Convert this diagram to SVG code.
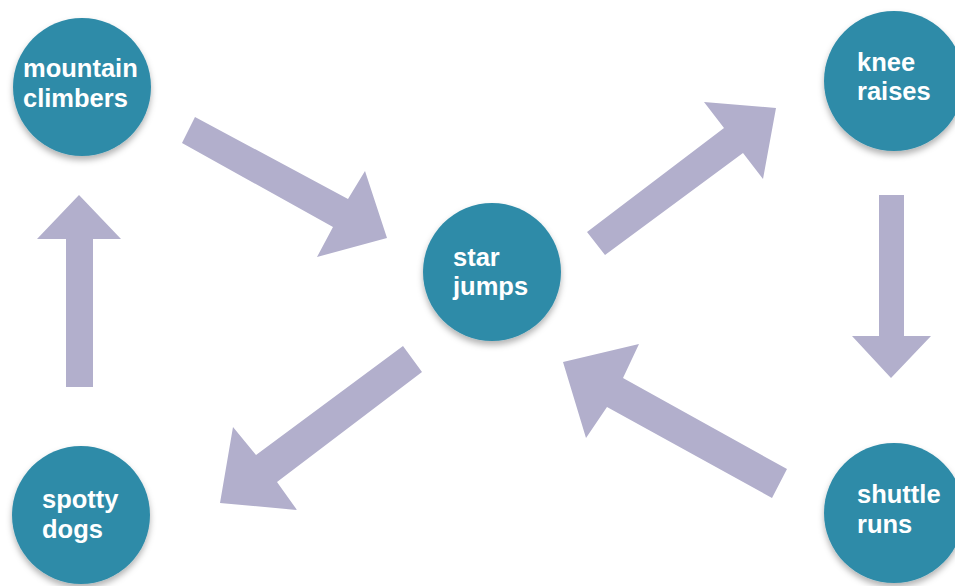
<svg xmlns="http://www.w3.org/2000/svg" width="955" height="586" viewBox="0 0 955 586">
<defs>
<filter id="sh" x="-20%" y="-20%" width="140%" height="150%">
<feDropShadow dx="0" dy="4" stdDeviation="3" flood-color="#000" flood-opacity="0.3"/>
</filter>
<style>
.node circle{fill:#2f8ba8;filter:url(#sh)}
.node text{font-family:"Liberation Sans",Arial,sans-serif;font-weight:bold;font-size:25.5px;fill:#fff}
.arrow{fill:#b2afcc}
</style>
</defs>
<rect width="955" height="586" fill="#fff"/>
<g id="connectors">
<polygon class="arrow" points="195,117 348,199 365,171 387,238 317,257 333,227 182,143"/>
<polygon class="arrow" points="587,232 724,128 704,102 776,108 763,179 743,153 605,255"/>
<polygon class="arrow" points="66,387 66,239 37,239 79,195 121,239 93,239 93,387"/>
<polygon class="arrow" points="879,195 904,195 904,336 931,336 891,378 852,336 879,336"/>
<polygon class="arrow" points="422,372 277,482 297,510 220,503 233,427 256,455 403,346"/>
<polygon class="arrow" points="772,498 607,407 586,438 563,362 639,344 623,378 787,469"/>
</g>
<g id="mountain-climbers" class="node">
<circle cx="82" cy="87" r="69"/>
<text x="23" y="77">mountain</text>
<text x="23" y="107">climbers</text>
</g>
<g id="star-jumps" class="node">
<circle cx="492" cy="272" r="69"/>
<text x="453" y="266">star</text>
<text x="453" y="295">jumps</text>
</g>
<g id="knee-raises" class="node">
<circle cx="894" cy="81" r="70"/>
<text x="857" y="71">knee</text>
<text x="857" y="100">raises</text>
</g>
<g id="spotty-dogs" class="node">
<circle cx="81" cy="515" r="69"/>
<text x="42" y="508">spotty</text>
<text x="42" y="538">dogs</text>
</g>
<g id="shuttle-runs" class="node">
<circle cx="894" cy="513" r="70"/>
<text x="857" y="503">shuttle</text>
<text x="857" y="533">runs</text>
</g>
</svg>
